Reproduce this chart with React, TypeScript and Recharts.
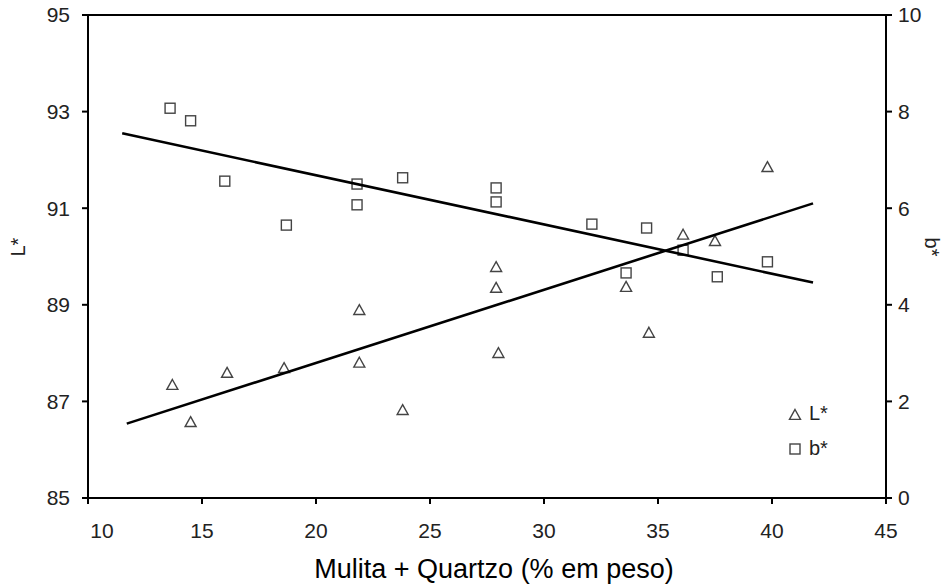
import { Legend, ReferenceLine, Scatter, ScatterChart, XAxis, YAxis } from 'recharts'

const xTicks = [10, 15, 20, 25, 30, 35, 40, 45]
const lTicks = [85, 87, 89, 91, 93, 95]
const bTicks = [0, 2, 4, 6, 8, 10]

// L* (triangles, left axis)
const lStar = [
  { x: 13.7, y: 87.34 },
  { x: 14.5, y: 86.57 },
  { x: 16.1, y: 87.59 },
  { x: 18.6, y: 87.69 },
  { x: 21.9, y: 88.89 },
  { x: 21.9, y: 87.8 },
  { x: 23.8, y: 86.82 },
  { x: 27.9, y: 89.78 },
  { x: 27.9, y: 89.35 },
  { x: 28.0, y: 88.0 },
  { x: 33.6, y: 89.37 },
  { x: 34.6, y: 88.42 },
  { x: 36.1, y: 90.45 },
  { x: 37.5, y: 90.32 },
  { x: 39.8, y: 91.85 }
]

// b* (squares, right axis)
const bStar = [
  { x: 13.6, y: 8.07 },
  { x: 14.5, y: 7.81 },
  { x: 16.0, y: 6.56 },
  { x: 18.7, y: 5.65 },
  { x: 21.8, y: 6.5 },
  { x: 21.8, y: 6.07 },
  { x: 23.8, y: 6.63 },
  { x: 27.9, y: 6.42 },
  { x: 27.9, y: 6.13 },
  { x: 32.1, y: 5.67 },
  { x: 34.5, y: 5.59 },
  { x: 33.6, y: 4.66 },
  { x: 36.1, y: 5.13 },
  { x: 37.6, y: 4.58 },
  { x: 39.8, y: 4.89 }
]

// fitted lines
const lFit = [
  { x: 11.7, y: 86.54 },
  { x: 41.8, y: 91.1 }
]
const bFit = [
  { x: 11.5, y: 7.55 },
  { x: 41.8, y: 4.46 }
]

const FONT = '"Liberation Sans", Arial, sans-serif'
const INK = '#222'

const Triangle = (props: any) => {
  const { cx, cy } = props
  if (cx == null || cy == null) return <g />
  const s = 5.5
  return (
    <path
      d={`M${cx},${cy - s}L${cx + s},${cy + s * 0.8}L${cx - s},${cy + s * 0.8}Z`}
      fill="none"
      stroke="#444"
      strokeWidth={1.4}
    />
  )
}

const Square = (props: any) => {
  const { cx, cy } = props
  if (cx == null || cy == null) return <g />
  return (
    <rect
      x={cx - 5}
      y={cy - 5}
      width={10}
      height={10}
      fill="none"
      stroke="#444"
      strokeWidth={1.4}
    />
  )
}

const NoDot = () => <g />

const XTick = (props: any) => {
  const { x, y, payload } = props
  const dx = payload.value === 10 ? 14 : 0
  return (
    <text
      x={x + dx}
      y={y}
      dy="0.71em"
      textAnchor="middle"
      fill={INK}
      fontSize={21}
      fontFamily={FONT}
    >
      {payload.value}
    </text>
  )
}

const LegendBox = () => (
  <div style={{ fontFamily: FONT, fontSize: 20, color: INK, lineHeight: '35px' }}>
    <div style={{ display: 'flex', alignItems: 'center' }}>
      <svg width={16} height={16}>
        <Triangle cx={8} cy={9} />
      </svg>
      <span style={{ marginLeft: 6 }}>L*</span>
    </div>
    <div style={{ display: 'flex', alignItems: 'center' }}>
      <svg width={16} height={16}>
        <Square cx={8} cy={8} />
      </svg>
      <span style={{ marginLeft: 6 }}>b*</span>
    </div>
  </div>
)

const axisStyle = { stroke: '#000', strokeWidth: 2 }

export default function App() {
  return (
    <div style={{ position: 'absolute', left: 0, top: 0, background: '#fff' }}>
      <ScatterChart
        width={945}
        height={585}
        margin={{ top: 15, right: 0, bottom: 0, left: 0 }}
      >
        <XAxis
          type="number"
          dataKey="x"
          domain={[10, 45]}
          ticks={xTicks}
          height={87}
          axisLine={axisStyle}
          tickLine={axisStyle}
          tickSize={6}
          tickMargin={19}
          tick={<XTick />}
          label={{
            value: 'Mulita + Quartzo (% em peso)',
            position: 'insideBottom',
            offset: 7,
            dx: 7,
            fill: '#000',
            fontSize: 27,
            fontFamily: FONT
          }}
        />
        <YAxis
          yAxisId="L"
          type="number"
          dataKey="y"
          domain={[85, 95]}
          ticks={lTicks}
          width={88}
          axisLine={axisStyle}
          tickLine={axisStyle}
          tickSize={6}
          tickMargin={12}
          tick={{ fill: INK, fontSize: 21, fontFamily: FONT }}
          label={{
            value: 'L*',
            angle: -90,
            position: 'insideLeft',
            offset: 18,
            fill: INK,
            fontSize: 20,
            fontFamily: FONT
          }}
        />
        <YAxis
          yAxisId="b"
          orientation="right"
          type="number"
          dataKey="y"
          domain={[0, 10]}
          ticks={bTicks}
          width={59}
          axisLine={axisStyle}
          tickLine={axisStyle}
          tickSize={6}
          tickMargin={6}
          tick={{ fill: INK, fontSize: 21, fontFamily: FONT }}
          label={{
            value: 'b*',
            angle: 90,
            position: 'insideRight',
            offset: 13,
            fill: INK,
            fontSize: 20,
            fontFamily: FONT
          }}
        />
        <ReferenceLine yAxisId="L" y={95} stroke="#000" strokeWidth={2} />
        <Scatter
          name="L*"
          yAxisId="L"
          data={lStar}
          shape={Triangle}
          isAnimationActive={false}
        />
        <Scatter
          name="b*"
          yAxisId="b"
          data={bStar}
          shape={Square}
          isAnimationActive={false}
        />
        <Scatter
          yAxisId="L"
          data={lFit}
          shape={NoDot}
          line={{ stroke: '#000', strokeWidth: 2.6 }}
          lineType="joint"
          legendType="none"
          isAnimationActive={false}
        />
        <Scatter
          yAxisId="b"
          data={bFit}
          shape={NoDot}
          line={{ stroke: '#000', strokeWidth: 2.6 }}
          lineType="joint"
          legendType="none"
          isAnimationActive={false}
        />
        <Legend
          layout="horizontal"
          verticalAlign="middle"
          align="center"
          content={<LegendBox />}
          wrapperStyle={{ left: 787, top: 396, width: 60, right: 'auto', bottom: 'auto' }}
        />
      </ScatterChart>
    </div>
  )
}
